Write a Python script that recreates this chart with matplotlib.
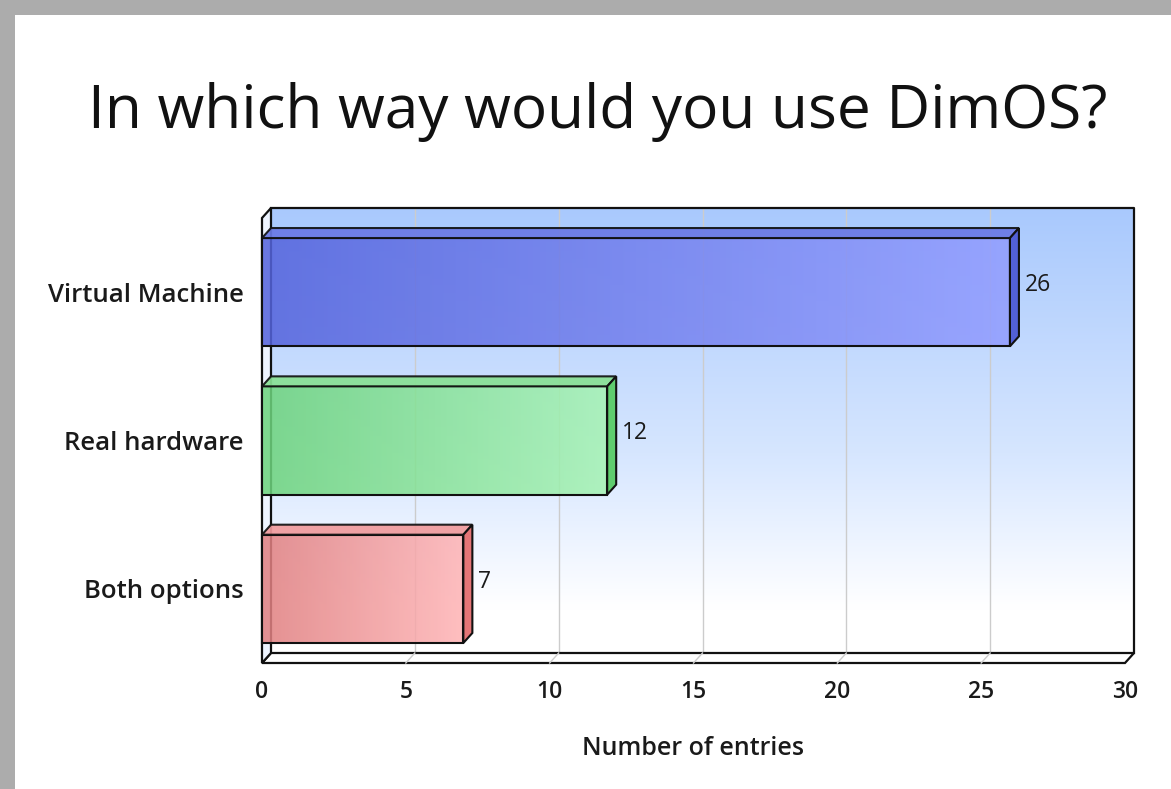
import numpy as np
import matplotlib
matplotlib.use("Agg")
import matplotlib.pyplot as plt
from matplotlib.patches import Rectangle, Polygon
from matplotlib.colors import LinearSegmentedColormap

# data
categories = ["Virtual Machine", "Real hardware", "Both options"]
entries = [26, 12, 7]
bar_left_colors = ["#5463dc", "#6cd37c", "#e07f80"]
bar_right_colors = ["#929dff", "#a6f3b4", "#ffb4b6"]
bar_side_colors = ["#5260d6", "#5fcd6e", "#e57577"]
bar_top_colors = ["#6a79e4", "#88e094", "#f09a9c"]
x_ticks = [0, 5, 10, 15, 20, 25, 30]

plt.rcParams["font.family"] = ["Open Sans", "DejaVu Sans"]

W, H = 1171, 789
fig = plt.figure(figsize=(W / 100, H / 100), dpi=100)

# grey frame along top and left edge
fig.patches.append(Rectangle((0, 0), 1, 1, transform=fig.transFigure,
                             facecolor="#acacac", edgecolor="none", zorder=-10))
fig.patches.append(Rectangle((15 / W, 0), 1, 1 - 15 / H, transform=fig.transFigure,
                             facecolor="white", edgecolor="none", zorder=-9))

# front plotting plane in pixels
x0, x1 = 262, 1125
y_top, y_bot = 218, 663
ax = fig.add_axes([x0 / W, 1 - y_bot / H, (x1 - x0) / W, (y_bot - y_top) / H])
ax.set_xlim(0, 30)
ax.set_ylim(2.5, -0.5)
ax.patch.set_visible(False)
for s in ax.spines.values():
    s.set_visible(False)

# 3D depth in data units
DX = 30 * 9 / (x1 - x0)
DY = 3 * 10 / (y_bot - y_top)

ymin, ymax = 2.5, -0.5

# back wall with vertical gradient
grad = np.linspace(0, 1, 256)[:, None]
wall_cmap = LinearSegmentedColormap.from_list(
    "wall", [(0, "#a9c9fd"), (0.55, "#d6e6ff"), (0.9, "#ffffff"), (1, "#ffffff")])
ax.imshow(grad, cmap=wall_cmap, aspect="auto", interpolation="bicubic",
          extent=[DX, 30 + DX, ymin - DY, ymax - DY], clip_on=False, zorder=0)

# grid lines on the wall and floor
for t in x_ticks[1:-1]:
    ax.plot([t + DX, t + DX], [ymax - DY, ymin - DY], color="#cccccc", lw=1,
            clip_on=False, zorder=1)
# floor
floor = Polygon([(0, ymin), (30, ymin), (30 + DX, ymin - DY), (DX, ymin - DY)],
                closed=True, facecolor="white", edgecolor="#111111", lw=1.6,
                clip_on=False, zorder=2)
ax.add_patch(floor)
for t in x_ticks[1:-1]:
    ax.plot([t, t + DX], [ymin, ymin - DY], color="#cccccc", lw=1,
            clip_on=False, zorder=2.5)
# left wall
lwall = Polygon([(0, ymin), (0, ymax), (DX, ymax - DY), (DX, ymin - DY)],
                closed=True, facecolor="#eef4ff", edgecolor="#111111", lw=1.6,
                clip_on=False, zorder=2)
ax.add_patch(lwall)
# back wall frame
ax.plot([DX, 30 + DX, 30 + DX], [ymax - DY, ymax - DY, ymin - DY],
        color="#111111", lw=1.6, clip_on=False, zorder=2)

# bars
h = 0.73
for i, (cat, v) in enumerate(zip(categories, entries)):
    top, bot = i - h / 2, i + h / 2
    cmap = LinearSegmentedColormap.from_list(
        "b%d" % i, [bar_left_colors[i], bar_right_colors[i]])
    ax.imshow(np.linspace(0, 1, 256)[None, :], cmap=cmap, aspect="auto",
              extent=[0, v, bot, top], alpha=0.86, clip_on=False, zorder=4,
              interpolation="bicubic")
    ax.add_patch(Rectangle((0, top), v, h, facecolor="none", edgecolor="#111111",
                           lw=1.5, zorder=5, clip_on=False))
    ax.add_patch(Polygon([(0, top), (v, top), (v + DX, top - DY), (DX, top - DY)],
                         closed=True, facecolor=bar_top_colors[i], alpha=0.92,
                         edgecolor="#111111", lw=1.5, zorder=5, clip_on=False))
    ax.add_patch(Polygon([(v, top), (v + DX, top - DY), (v + DX, bot - DY), (v, bot)],
                         closed=True, facecolor=bar_side_colors[i],
                         edgecolor="#111111", lw=1.5, zorder=5, clip_on=False))
    ax.annotate(str(v), xy=(v + DX, i), xytext=(6, 7), textcoords="offset pixels",
                ha="left", va="center", fontsize=16.5, color="#1a1a1a", zorder=6)

ax.set_xticks(x_ticks)
ax.set_xticklabels([str(t) for t in x_ticks], fontsize=16.5, fontweight="semibold",
                   color="#1a1a1a")
ax.set_yticks(range(len(categories)))
ax.set_yticklabels(categories, fontsize=18.5, fontweight="semibold", color="#1a1a1a")
ax.tick_params(axis="x", length=0, pad=12)
ax.tick_params(axis="y", length=0, pad=13)
ax.set_xlabel("Number of entries", fontsize=18, fontweight="semibold",
              color="#1a1a1a", labelpad=23)

fig.text(598 / W, 1 - 112 / H, "In which way would you use DimOS?", ha="center",
         va="center", fontsize=43.5, color="#111111")

fig.savefig("out.png", dpi=100)
